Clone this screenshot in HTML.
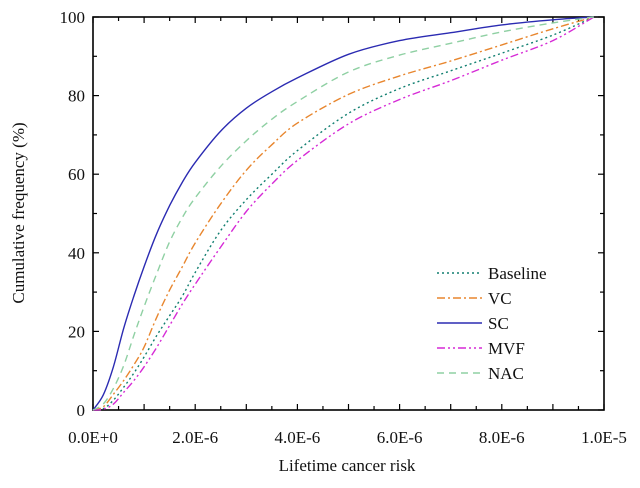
<!DOCTYPE html>
<html><head><meta charset="utf-8"><style>
body{margin:0;background:#fff;}
svg text{font-family:"Liberation Serif",serif;fill:#111;}
</style></head><body>
<svg id="chart" width="640" height="483" viewBox="0 0 640 483" xmlns="http://www.w3.org/2000/svg">
<g id="axes"></g>
<g id="series"></g>
<g id="legend"></g>
<text x="347" y="471" font-size="17" text-anchor="middle">Lifetime cancer risk</text>
<text transform="translate(24,213) rotate(-90)" font-size="17" text-anchor="middle">Cumulative frequency (%)</text>
</svg>
<script>
const xs = [0, 0.2, 0.4, 0.6, 0.8, 1.0, 1.25, 1.5, 1.75, 2.0, 2.5, 3.0, 3.5, 4.0, 5.0, 6.0, 7.0, 8.0, 9.0, 9.8];
const baseline = [0, 0.3, 2.5, 5.8, 9.4, 13.5, 19, 24, 29, 35, 45.7, 53.5, 60, 66, 75.5, 81.8, 86.3, 90.8, 95.4, 100];
const vc = [0, 0.8, 4, 7.5, 11.5, 16, 23.7, 30.5, 36.5, 42.5, 52.5, 61, 67.5, 73, 80.3, 85, 88.8, 92.9, 97, 100];
const sc = [0, 3.8, 11, 20.8, 29, 36.5, 45, 52, 58, 63, 71, 76.8, 81, 84.5, 90.5, 94, 96, 98, 99.3, 100];
const mvf = [0, 0.2, 1.5, 4.5, 7.5, 11, 16, 21.5, 27, 32, 41.5, 50.5, 57.5, 63.5, 72.8, 79, 83.8, 89, 94, 100];
const nac = [0, 1.5, 5.5, 11.3, 19, 26.3, 34.8, 42.8, 49, 54, 62, 68.5, 74, 78.5, 86, 90.3, 93.3, 96.2, 98.5, 100];
const xTicks = [0, 2, 4, 6, 8, 10];
const xTickLabels = ["0.0E+0", "2.0E-6", "4.0E-6", "6.0E-6", "8.0E-6", "1.0E-5"];
const yTicks = [0, 20, 40, 60, 80, 100];
const seriesNames = ["Baseline", "VC", "SC", "MVF", "NAC"];

const NS = "http://www.w3.org/2000/svg";
const L = 93, R = 604, T = 17, B = 410;
const xs_ = v => L + (v / 10) * (R - L);
const ys_ = v => B - (v / 100) * (B - T);
function mk(tag, attrs, parent) {
  const e = document.createElementNS(NS, tag);
  for (const k in attrs) e.setAttribute(k, attrs[k]);
  parent.appendChild(e);
  return e;
}
function smooth(pts) {
  let d = 'M' + pts[0][0].toFixed(1) + ',' + pts[0][1].toFixed(1);
  for (let i = 0; i < pts.length - 1; i++) {
    const p0 = pts[Math.max(0, i - 1)], p1 = pts[i], p2 = pts[i + 1], p3 = pts[Math.min(pts.length - 1, i + 2)];
    const c1x = p1[0] + (p2[0] - p0[0]) / 6, c1y = p1[1] + (p2[1] - p0[1]) / 6;
    const c2x = p2[0] - (p3[0] - p1[0]) / 6, c2y = p2[1] - (p3[1] - p1[1]) / 6;
    d += ' C' + c1x.toFixed(1) + ',' + c1y.toFixed(1) + ' ' + c2x.toFixed(1) + ',' + c2y.toFixed(1) + ' ' + p2[0].toFixed(1) + ',' + p2[1].toFixed(1);
  }
  return d;
}
const axes = document.getElementById('axes');
const frame = mk('rect', {x: L, y: T, width: R - L, height: B - T, fill: 'none', stroke: '#000', 'stroke-width': 1.6}, axes);


for (let i = 0; i <= 20; i++) {
  const v = i * 0.5;
  const x = xs_(v), len = (i % 2 === 0) ? 6 : 4;
  const t1 = mk('line', {x1: x, x2: x, y1: B, y2: B - len, stroke: '#000', 'stroke-width': 1.2}, axes);
  
  
  const t2 = mk('line', {x1: x, x2: x, y1: T, y2: T + len, stroke: '#000', 'stroke-width': 1.2}, axes);
  
  
}
for (let i = 0; i <= 10; i++) {
  const v = i * 10;
  const y = ys_(v), len = (i % 2 === 0) ? 6 : 4;
  const t1 = mk('line', {x1: L, x2: L + len, y1: y, y2: y, stroke: '#000', 'stroke-width': 1.2}, axes);
  
  
  const t2 = mk('line', {x1: R, x2: R - len, y1: y, y2: y, stroke: '#000', 'stroke-width': 1.2}, axes);
  
  
}
xTicks.forEach((v, i) => {
  const t = mk('text', {x: xs_(v), y: 443, 'font-size': 17, 'text-anchor': 'middle'}, axes);
  t.textContent = xTickLabels[i];
  
  
});
yTicks.forEach(v => {
  const t = mk('text', {x: 85, y: ys_(v) + 6, 'font-size': 17, 'text-anchor': 'end'}, axes);
  t.textContent = String(v);
  
  
});
const data = [baseline, vc, sc, mvf, nac];
const colors = ['#117f70', '#e8862e', '#2b2bb2', '#d62ad6', '#8fd0a3'];
const dashes = ['2,3', '8,3,2,3', '', '8,3,2,3,2,3', '7,5'];
const sg = document.getElementById('series');
const lg = document.getElementById('legend');
data.forEach((arr, si) => {
  const pts = arr.map((v, i) => [xs_(xs[i]), ys_(v)]);
  const p = mk('path', {d: smooth(pts), fill: 'none', stroke: colors[si], 'stroke-width': 1.4, 'stroke-dasharray': dashes[si], 'stroke-linejoin': 'round'}, sg);
  
  
  const ly = 273 + si * 25;
  const ll = mk('line', {x1: 437, x2: 482, y1: ly, y2: ly, stroke: colors[si], 'stroke-width': 1.4, 'stroke-dasharray': dashes[si]}, lg);
  
  
  const lt = mk('text', {x: 488, y: ly + 6, 'font-size': 17}, lg);
  lt.textContent = seriesNames[si];
  
  
});
</script>
</body></html>
